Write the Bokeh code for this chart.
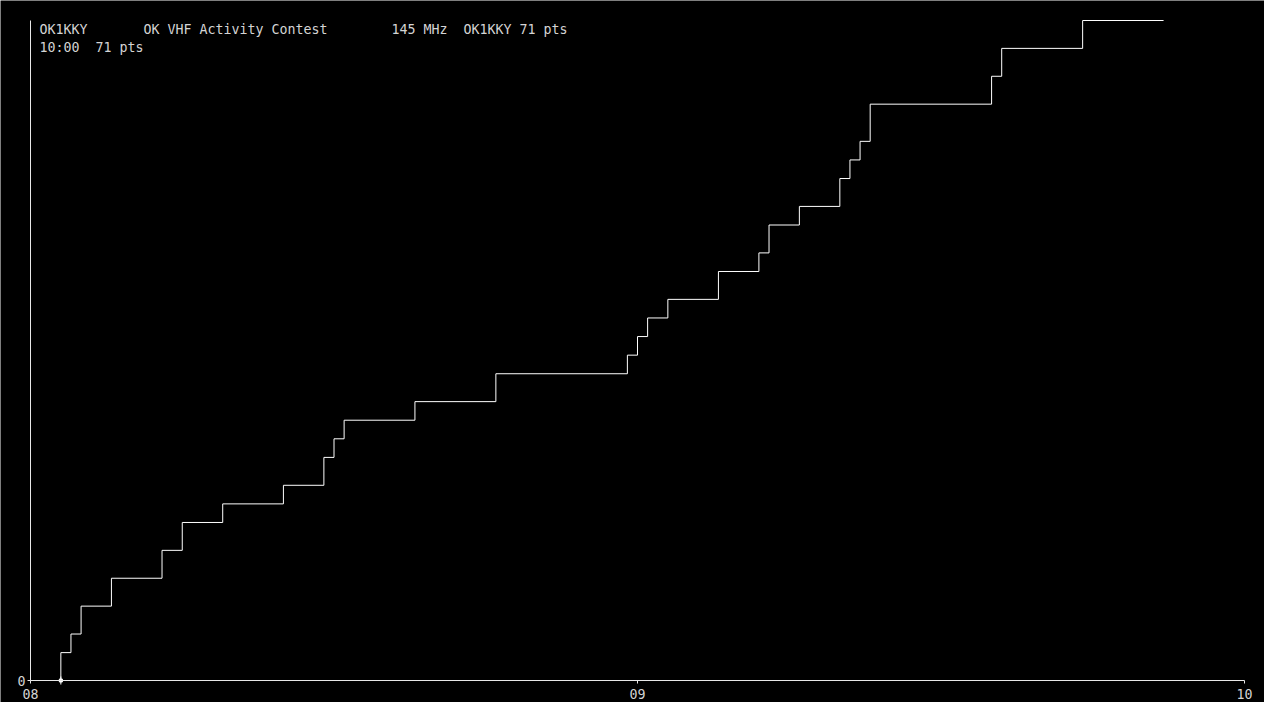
from bokeh.plotting import figure
from bokeh.models import Range1d, FixedTicker, Label
from bokeh.embed import file_html
from bokeh.resources import INLINE

# ---- data ----
qso_times = ["08:03", "08:04", "08:05", "08:08", "08:13", "08:15", "08:19", "08:25",
             "08:29", "08:30", "08:31", "08:38", "08:46", "08:59", "09:00", "09:01",
             "09:03", "09:08", "09:12", "09:13", "09:16", "09:20", "09:21", "09:22",
             "09:23", "09:35", "09:36", "09:44"]
qso_points = [3, 2, 3, 3, 3, 3, 2, 2, 3, 2, 2, 2, 3, 2, 2, 2, 2, 3, 2, 3, 2, 3, 2, 2,
              4, 3, 3, 3]
end_time = "09:52"
x_ticks_labels = ["08", "09", "10"]
y_ticks = [0]
total_points = 71
station = "OK1KKY"
contest = "OK VHF Activity Contest"
band = "145 MHz"
clock = "10:00"

START_HOUR = 8


def to_min(s):
    h, m = s.split(":")
    return (int(h) - START_HOUR) * 60 + int(m)


tx = [to_min(t) for t in qso_times]
cum = []
acc = 0
for v in qso_points:
    acc += v
    cum.append(acc)

step_x = [tx[0]] + tx + [to_min(end_time)]
step_y = [0] + cum + [cum[-1]]

# ---- geometry ----
W, H = 1264, 702
x0_px, x1_px = 30, 1244      # 08:00 and 10:00 in figure px
y0_px, y1_px = 680, 20       # 0 and max points in figure px (from top)
span_min = 120
ppm = (x1_px - x0_px) / span_min
ppp = (y0_px - y1_px) / total_points

x_range = Range1d(-x0_px / ppm, span_min + (W - x1_px) / ppm)
y_range = Range1d(-(H - y0_px) / ppp, total_points + y1_px / ppp)

FONT = "DejaVu Sans Mono"
FS = "13.3px"
TXT = "#d4d4d4"
LINE = "#ffffff"

p = figure(width=W, height=H, x_range=x_range, y_range=y_range,
           output_backend="svg", toolbar_location=None,
           min_border_left=0, min_border_right=0, min_border_top=0, min_border_bottom=0)
p.background_fill_color = "black"
p.border_fill_color = "black"
p.outline_line_color = None
p.xgrid.visible = False
p.ygrid.visible = False

for ax in (p.xaxis[0], p.yaxis[0]):
    ax.fixed_location = 0
    ax.axis_line_color = "#e8e8e8"
    ax.axis_line_width = 1
    ax.major_tick_line_color = "#e8e8e8"
    ax.major_tick_out = 3
    ax.major_tick_in = 0
    ax.minor_tick_line_color = None
    ax.major_label_text_font = FONT
    ax.major_label_text_font_size = FS
    ax.major_label_text_color = TXT

p.xaxis[0].bounds = (0, span_min)
p.xaxis[0].ticker = FixedTicker(ticks=[0, 60, 120])
p.xaxis[0].major_label_overrides = {0: x_ticks_labels[0], 60: x_ticks_labels[1], 120: x_ticks_labels[2]}
p.xaxis[0].major_label_standoff = 5

p.yaxis[0].bounds = (0, total_points)
p.yaxis[0].ticker = FixedTicker(ticks=y_ticks)
p.yaxis[0].major_label_standoff = 2

p.step(step_x, step_y, mode="after", line_color=LINE, line_width=1)
p.scatter([tx[0]], [0], marker="cross", size=8, line_color=LINE, line_width=1)
p.scatter([tx[0]], [0], marker="square", size=3, fill_color=LINE, line_color=LINE)

header = [
    (39, 29, station),
    (143, 29, contest),
    (391, 29, band),
    (463, 29, f"{station} {total_points} pts"),
    (39, 47, clock),
    (95, 47, f"{total_points} pts"),
]
for hx, hy, txt in header:
    p.add_layout(Label(x=hx, y=H - hy, x_units="screen", y_units="screen", text=txt,
                       text_font=FONT, text_font_size=FS, text_color=TXT,
                       text_baseline="middle"))

open("out.html", "w").write(file_html(p, INLINE))
